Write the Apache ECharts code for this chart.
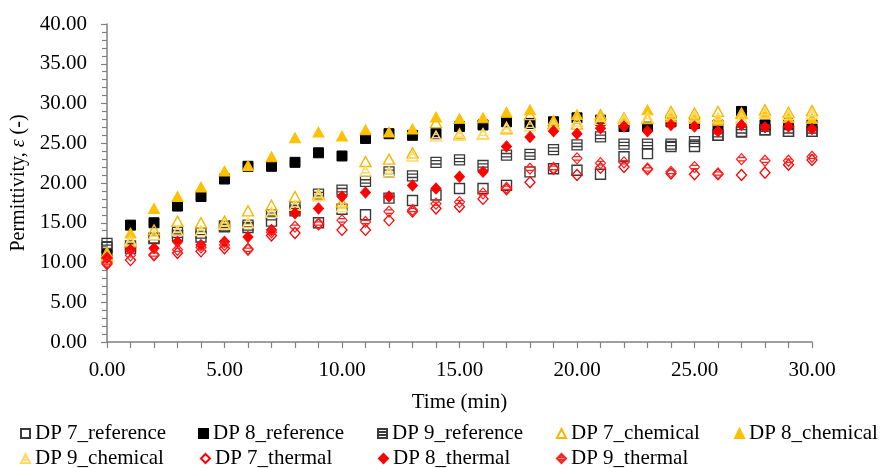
<!DOCTYPE html>
<html><head><meta charset="utf-8">
<script src="https://cdn.jsdelivr.net/npm/echarts@6/dist/echarts.min.js"></script>
<style>html,body{margin:0;padding:0;background:#fff}#c{width:885px;height:468px}</style>
</head><body><div id="c"></div>
<script>
const times = [0,1,2,3,4,5,6,7,8,9,10,11,12,13,14,15,16,17,18,19,20,21,22,23,24,25,26,27,28,29,30];
const yTicks = [0,5,10,15,20,25,30,35,40];
const seriesNames = ['DP 7_reference','DP 8_reference','DP 9_reference','DP 7_chemical','DP 8_chemical','DP 9_chemical','DP 7_thermal','DP 8_thermal','DP 9_thermal'];
const dp7Reference = [11.9,11.8,13.0,13.4,13.2,14.5,14.4,15.2,16.5,15.0,16.7,16.0,18.1,17.8,18.5,19.3,19.3,19.7,21.4,21.8,21.6,21.1,23.3,23.7,24.6,24.6,26.0,26.4,26.7,26.5,26.5];
const dp8Reference = [11.0,14.7,15.0,17.1,18.3,20.5,22.1,22.1,22.6,23.8,23.4,25.6,26.2,26.0,26.2,27.1,27.3,27.7,27.5,27.7,28.2,27.9,27.1,27.1,27.7,27.5,27.3,29.0,27.3,27.5,27.3];
const dp9Reference = [12.4,12.1,13.1,13.8,13.7,14.6,14.7,16.0,17.0,18.6,19.1,20.2,21.4,20.9,22.6,22.9,22.2,23.5,23.6,24.2,24.8,25.8,24.9,24.9,24.9,25.2,26.0,26.5,26.7,26.5,26.5];
const dp7Chemical = [10.8,12.6,14.1,15.2,15.0,15.2,16.5,17.2,18.3,18.6,17.6,22.7,23.0,23.8,27.6,26.2,26.2,26.8,28.6,27.5,27.4,28.6,28.2,28.1,29.0,28.8,29.0,28.8,29.2,28.9,29.1];
const dp8Chemical = [11.3,13.7,16.8,18.3,19.5,21.5,22.2,23.3,25.7,26.4,25.9,26.7,26.4,26.8,28.3,28.1,28.2,28.9,29.2,27.9,28.6,28.3,28.1,29.2,28.3,28.1,27.9,28.7,28.7,28.2,28.1];
const dp9Chemical = [10.5,12.8,13.5,14.0,14.0,14.8,15.0,16.3,17.2,18.4,17.0,21.5,21.4,23.4,25.9,26.0,26.2,27.0,27.2,27.3,27.8,28.0,28.0,28.3,28.6,28.4,28.2,28.2,28.8,28.6,28.7];
const dp7Thermal = [9.8,10.3,10.9,11.2,11.4,11.8,11.7,13.4,13.7,14.8,14.1,14.1,15.3,16.4,16.8,17.0,18.0,19.2,20.1,21.8,21.0,21.9,22.0,21.8,21.2,21.1,21.1,21.0,21.3,22.3,22.9];
const dp8Thermal = [10.6,11.6,11.8,12.6,12.2,12.6,13.2,14.1,16.2,16.8,18.3,18.8,18.3,19.7,19.3,20.8,21.4,24.6,25.8,26.5,26.2,26.9,27.1,26.5,27.3,27.1,26.5,27.3,27.0,27.1,26.8];
const dp9Thermal = [10.0,10.9,11.0,11.6,11.9,12.2,11.6,13.8,14.5,14.9,15.3,15.1,16.4,16.6,17.4,17.6,18.7,19.4,21.8,21.9,23.1,22.5,22.6,21.7,21.4,22.0,21.2,23.0,22.8,22.8,23.3];
const allValues = [dp7Reference,dp8Reference,dp9Reference,dp7Chemical,dp8Chemical,dp9Chemical,dp7Thermal,dp8Thermal,dp9Thermal];

const SQ = 'path://M0,0L10,0L10,10L0,10Z';
const SQH = 'path://M0,0L10,0L10,10L0,10Z M0,3.33L10,3.33 M0,6.67L10,6.67';
const TR = 'path://M5,0L10,10L0,10Z';
const TRH = 'path://M5,0L10,10L0,10Z M3.33,3.33L6.67,3.33 M1.67,6.67L8.33,6.67';
const DI = 'path://M5,0L10,5L5,10L0,5Z';
const DIH = 'path://M5,0L10,5L5,10L0,5Z M1.5,3.5L8.5,3.5 M1.5,6.5L8.5,6.5';
const styles = [
  {sym:SQ, size:[10,10], fill:'rgba(255,255,255,0)', stroke:'#3a3a3a', bw:1.4},
  {sym:SQ, size:[10,10], fill:'#000', stroke:'#000', bw:1},
  {sym:SQH, size:[10,10], fill:'rgba(255,255,255,0)', stroke:'#3a3a3a', bw:1.3},
  {sym:TR, size:[11,10], fill:'rgba(255,255,255,0)', stroke:'#F5B800', bw:1.4},
  {sym:TR, size:[11,10], fill:'#FFC000', stroke:'#FFC000', bw:1},
  {sym:TRH, size:[11,10], fill:'rgba(255,255,255,0)', stroke:'#FFD966', bw:1.4},
  {sym:DI, size:[10,11], fill:'rgba(255,255,255,0)', stroke:'#FF0000', bw:1.3},
  {sym:DI, size:[10,11], fill:'#FF0000', stroke:'#FF0000', bw:1},
  {sym:DIH, size:[10,11], fill:'rgba(255,255,255,0)', stroke:'#FF2020', bw:1.2}
];
const legendPos = [[20,423],[198,423],[377,423],[556,423],[734,423],[20,448],[200,448],[378,448],[556,448]];
const FONT = 'Liberation Serif';

const series = seriesNames.map((n,i)=>({
  name:n, type:'scatter',
  data: times.map((t,j)=>[t, allValues[i][j]]),
  symbol: styles[i].sym, symbolSize: styles[i].size,
  itemStyle:{color:styles[i].fill, borderColor:styles[i].stroke, borderWidth:styles[i].bw, opacity:1},
  emphasis:{disabled:true}
}));
const legends = seriesNames.map((n,i)=>({
  data:[n], left:legendPos[i][0], top:legendPos[i][1], padding:0, itemWidth:9, itemHeight:9, itemGap:4,
  textStyle:{fontFamily:FONT, fontSize:21, color:'#000', padding:[0,0,0,0]}, selectedMode:false
}));

const chart = echarts.init(document.getElementById('c'), null, {renderer:'canvas'});
chart.setOption({
  animation:false,
  backgroundColor:'#fff',
  grid:{left:107, right:73, top:24, bottom:126, containLabel:false},
  legend: legends,
  xAxis:{type:'value', min:0, max:30, interval:5,
    name:'Time (min)', nameLocation:'middle', nameGap:50,
    nameTextStyle:{fontFamily:FONT, fontSize:21, color:'#000'},
    axisLine:{lineStyle:{color:'#808080', width:1.5}},
    axisTick:{show:true, length:6, lineStyle:{color:'#808080', width:1.2}},
    minorTick:{show:true, splitNumber:5, length:6, lineStyle:{color:'#808080', width:1.2}},
    splitLine:{show:false},
    axisLabel:{fontFamily:FONT, fontSize:21, color:'#000', margin:18, formatter:v=>v.toFixed(2)}
  },
  yAxis:{type:'value', min:yTicks[0], max:yTicks[yTicks.length-1], interval:5,
    name:'{a|Permittivity, }{b|ε}{a| (-)}', nameLocation:'middle', nameGap:76, nameRotate:90,
    nameTextStyle:{rich:{a:{fontFamily:FONT, fontSize:20, color:'#000'}, b:{fontFamily:FONT, fontSize:20, fontStyle:'italic', color:'#000'}}},
    axisLine:{show:true, lineStyle:{color:'#808080', width:1.5}},
    axisTick:{show:true, length:6, lineStyle:{color:'#808080', width:1.2}},
    minorTick:{show:true, splitNumber:5, length:5, lineStyle:{color:'#808080', width:1.2}},
    splitLine:{show:false},
    axisLabel:{fontFamily:FONT, fontSize:21, color:'#000', margin:20, formatter:v=>v.toFixed(2)}
  },
  series: series
});
</script></body></html>
